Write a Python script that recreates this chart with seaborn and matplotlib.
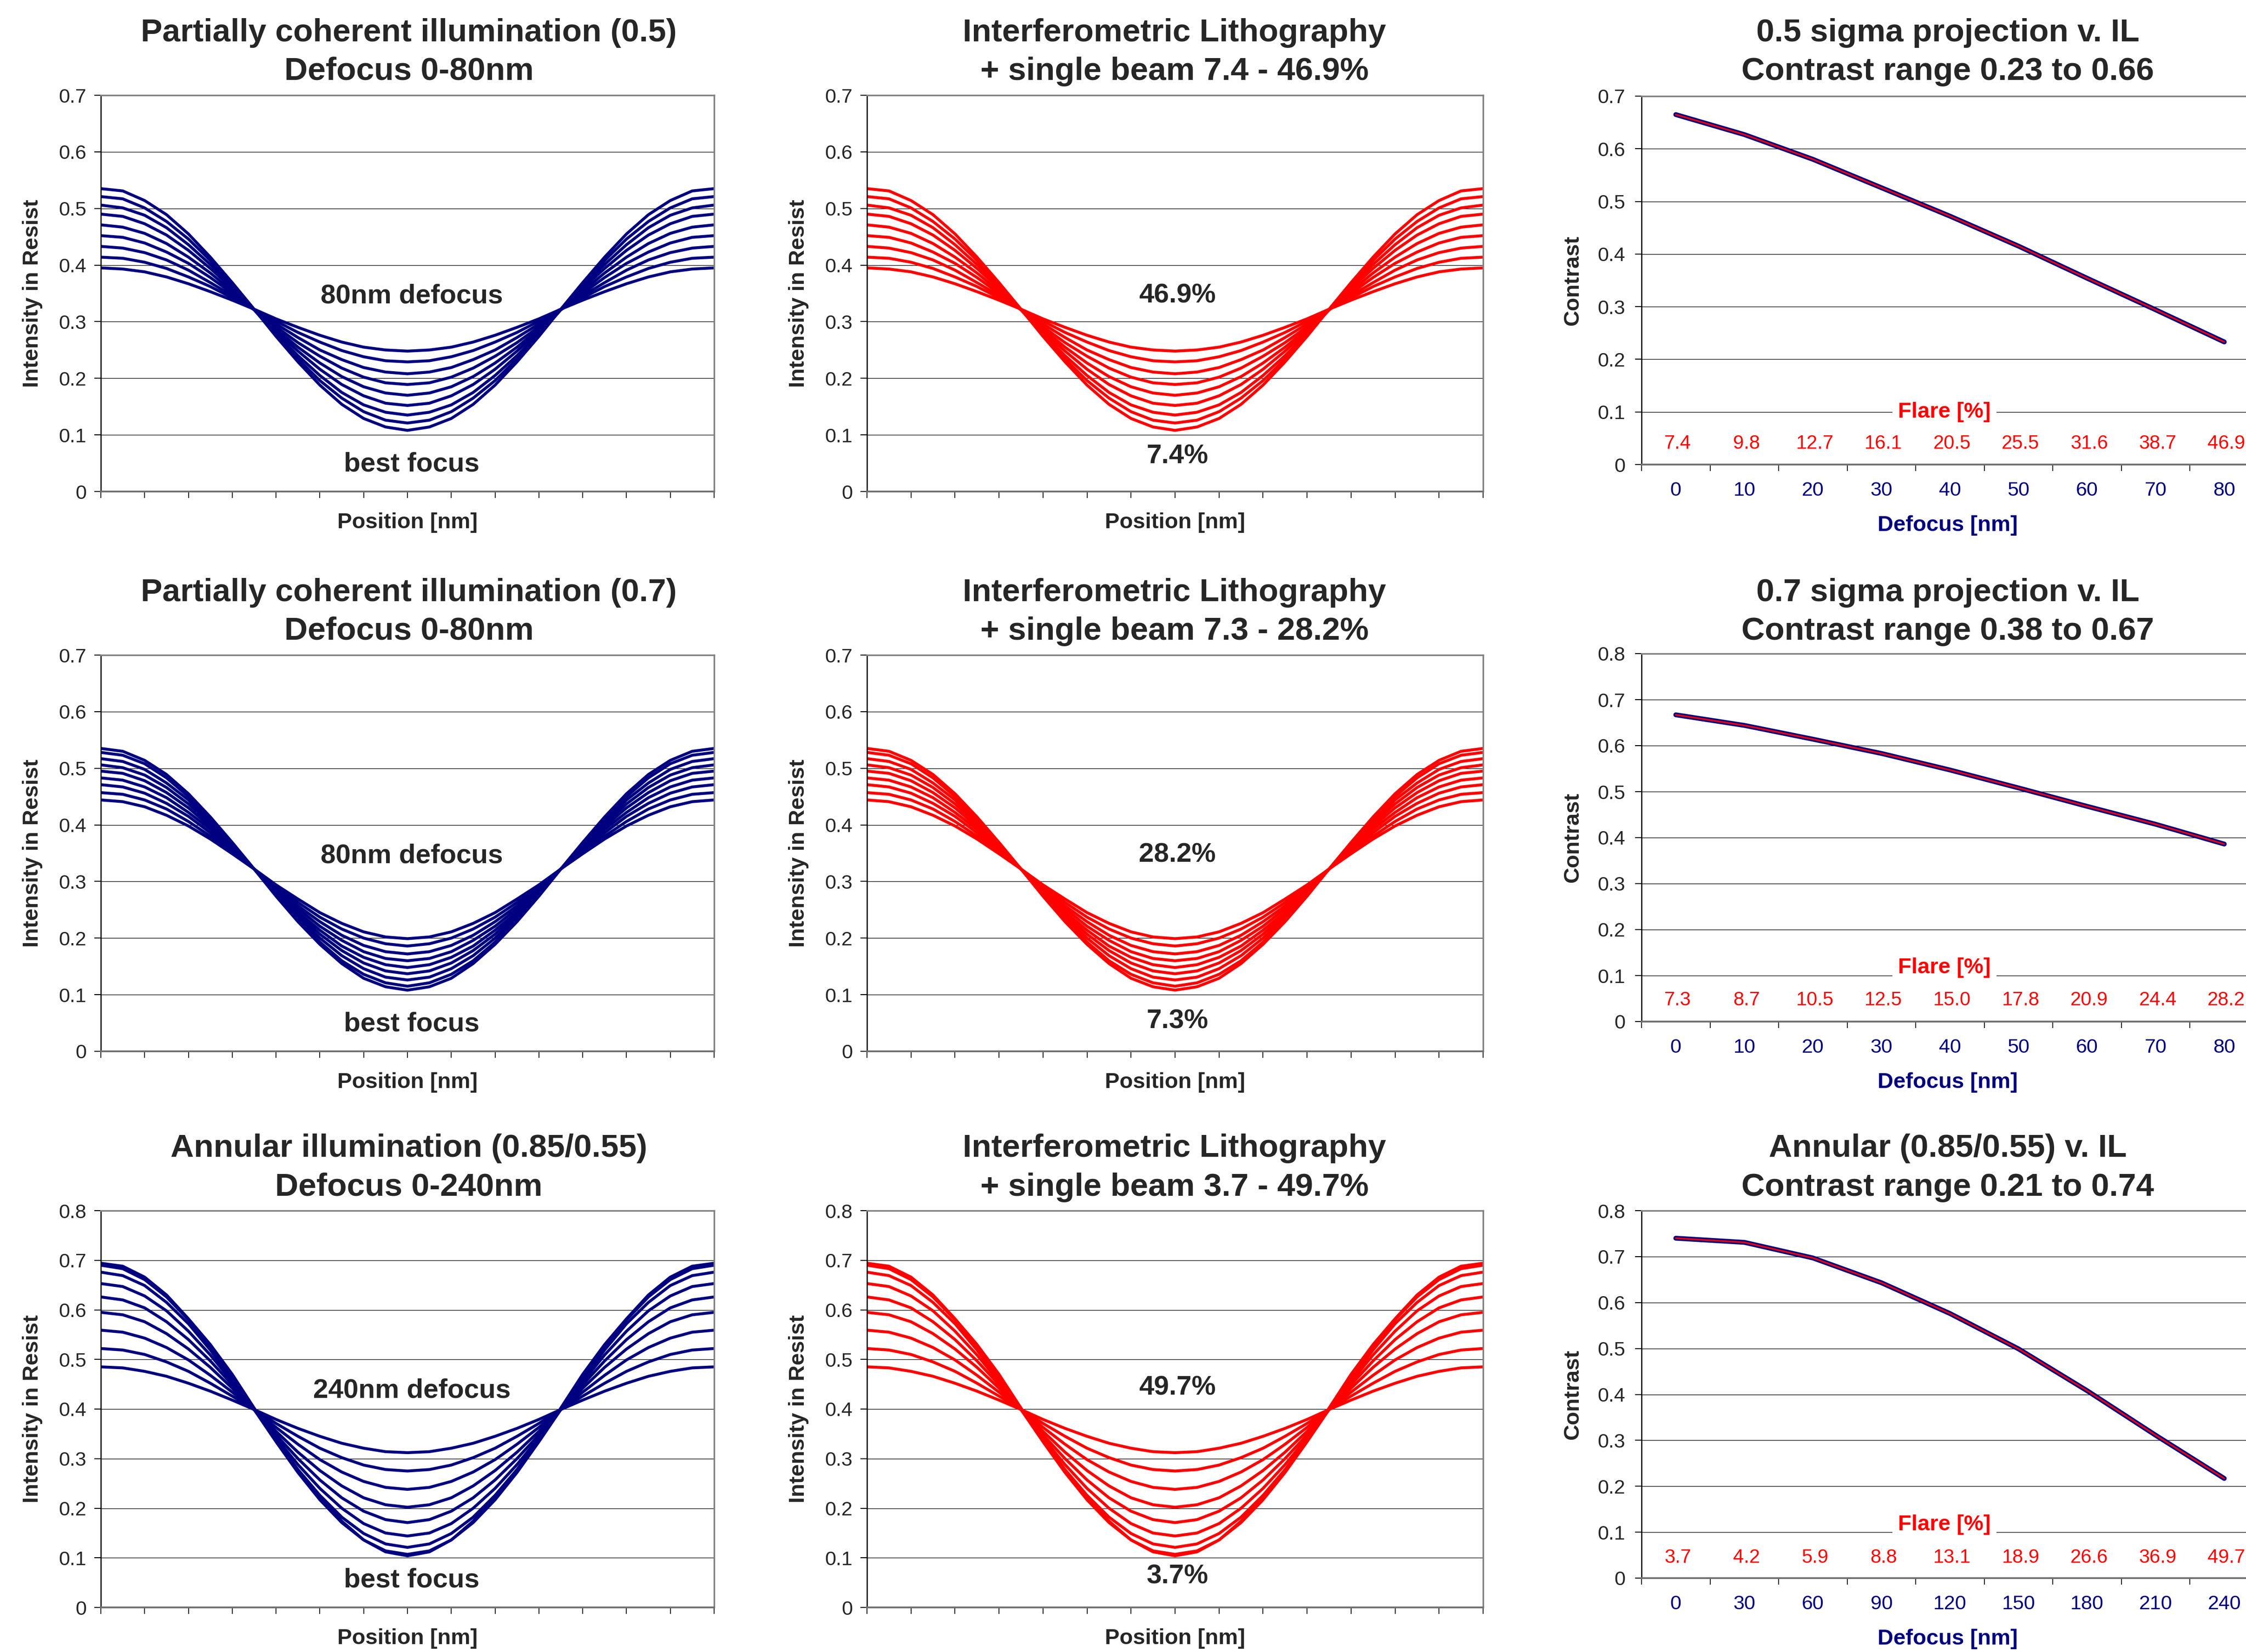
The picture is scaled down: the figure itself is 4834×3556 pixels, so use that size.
import numpy as np
import pandas as pd
import matplotlib
matplotlib.use('Agg')
import matplotlib.pyplot as plt
import seaborn as sns

# ---- values ----
# Intensity profiles, half period (line edge -> centre), 15 samples per curve,
# best focus first. The full profile is this half mirrored about the centre.
prof_05 = [
    [0.535, 0.531, 0.514, 0.489, 0.455, 0.414, 0.369, 0.322, 0.274, 0.229, 0.188, 0.154, 0.129, 0.114, 0.108],
    [0.521, 0.517, 0.501, 0.477, 0.446, 0.408, 0.366, 0.321, 0.277, 0.234, 0.196, 0.165, 0.141, 0.126, 0.121],
    [0.506, 0.501, 0.488, 0.466, 0.436, 0.401, 0.362, 0.321, 0.279, 0.240, 0.205, 0.175, 0.153, 0.140, 0.135],
    [0.490, 0.486, 0.473, 0.453, 0.426, 0.394, 0.359, 0.321, 0.283, 0.248, 0.216, 0.189, 0.169, 0.156, 0.152],
    [0.471, 0.467, 0.456, 0.438, 0.414, 0.386, 0.354, 0.321, 0.287, 0.255, 0.227, 0.203, 0.185, 0.174, 0.170],
    [0.452, 0.449, 0.439, 0.423, 0.403, 0.378, 0.350, 0.321, 0.291, 0.263, 0.239, 0.218, 0.202, 0.192, 0.189],
    [0.433, 0.430, 0.422, 0.409, 0.391, 0.369, 0.346, 0.321, 0.296, 0.272, 0.250, 0.233, 0.219, 0.211, 0.208],
    [0.414, 0.412, 0.405, 0.394, 0.379, 0.362, 0.342, 0.322, 0.301, 0.281, 0.264, 0.249, 0.238, 0.231, 0.229],
    [0.395, 0.393, 0.388, 0.379, 0.367, 0.353, 0.338, 0.322, 0.305, 0.290, 0.276, 0.264, 0.255, 0.250, 0.248],
]
prof_07 = [
    [0.535, 0.530, 0.514, 0.489, 0.455, 0.414, 0.369, 0.322, 0.274, 0.229, 0.189, 0.155, 0.129, 0.114, 0.108],
    [0.528, 0.523, 0.508, 0.483, 0.450, 0.411, 0.368, 0.322, 0.276, 0.232, 0.193, 0.160, 0.136, 0.121, 0.115],
    [0.517, 0.512, 0.498, 0.474, 0.444, 0.406, 0.365, 0.322, 0.278, 0.237, 0.200, 0.169, 0.146, 0.131, 0.126],
    [0.506, 0.501, 0.488, 0.466, 0.437, 0.402, 0.363, 0.322, 0.281, 0.242, 0.207, 0.178, 0.156, 0.142, 0.137],
    [0.495, 0.491, 0.478, 0.457, 0.430, 0.397, 0.360, 0.322, 0.283, 0.246, 0.214, 0.186, 0.166, 0.153, 0.148],
    [0.483, 0.479, 0.467, 0.448, 0.422, 0.392, 0.358, 0.322, 0.286, 0.252, 0.221, 0.196, 0.176, 0.164, 0.160],
    [0.471, 0.467, 0.456, 0.438, 0.415, 0.386, 0.355, 0.322, 0.288, 0.257, 0.229, 0.205, 0.187, 0.176, 0.172],
    [0.457, 0.454, 0.444, 0.428, 0.406, 0.380, 0.352, 0.322, 0.292, 0.263, 0.237, 0.216, 0.200, 0.190, 0.186],
    [0.444, 0.441, 0.432, 0.417, 0.398, 0.375, 0.349, 0.322, 0.294, 0.269, 0.245, 0.226, 0.211, 0.202, 0.199],
]
prof_ann = [
    [0.694, 0.688, 0.666, 0.630, 0.582, 0.530, 0.470, 0.402, 0.336, 0.277, 0.221, 0.174, 0.136, 0.112, 0.104],
    [0.690, 0.683, 0.661, 0.626, 0.580, 0.525, 0.463, 0.399, 0.334, 0.272, 0.217, 0.171, 0.136, 0.114, 0.107],
    [0.676, 0.669, 0.649, 0.615, 0.572, 0.519, 0.460, 0.399, 0.337, 0.278, 0.226, 0.182, 0.149, 0.128, 0.121],
    [0.653, 0.647, 0.628, 0.598, 0.557, 0.509, 0.455, 0.399, 0.342, 0.288, 0.240, 0.200, 0.169, 0.150, 0.144],
    [0.626, 0.620, 0.604, 0.576, 0.540, 0.497, 0.449, 0.399, 0.348, 0.300, 0.257, 0.221, 0.194, 0.177, 0.171],
    [0.595, 0.590, 0.576, 0.552, 0.521, 0.484, 0.442, 0.399, 0.355, 0.313, 0.276, 0.245, 0.221, 0.207, 0.202],
    [0.559, 0.555, 0.543, 0.524, 0.499, 0.468, 0.434, 0.399, 0.363, 0.329, 0.298, 0.273, 0.254, 0.242, 0.238],
    [0.522, 0.519, 0.510, 0.495, 0.476, 0.452, 0.426, 0.399, 0.371, 0.345, 0.321, 0.302, 0.287, 0.278, 0.275],
    [0.485, 0.483, 0.476, 0.466, 0.452, 0.436, 0.418, 0.399, 0.379, 0.361, 0.345, 0.331, 0.321, 0.314, 0.312],
]

defocus_80 = ['0', '10', '20', '30', '40', '50', '60', '70', '80']
defocus_240 = ['0', '30', '60', '90', '120', '150', '180', '210', '240']

contrast_05 = [0.665, 0.627, 0.580, 0.526, 0.472, 0.415, 0.354, 0.294, 0.233]
contrast_07 = [0.667, 0.644, 0.614, 0.583, 0.547, 0.508, 0.468, 0.429, 0.386]
contrast_ann = [0.740, 0.731, 0.697, 0.643, 0.576, 0.499, 0.408, 0.311, 0.217]

flare_05 = ['7.4', '9.8', '12.7', '16.1', '20.5', '25.5', '31.6', '38.7', '46.9']
flare_07 = ['7.3', '8.7', '10.5', '12.5', '15.0', '17.8', '20.9', '24.4', '28.2']
flare_ann = ['3.7', '4.2', '5.9', '8.8', '13.1', '18.9', '26.6', '36.9', '49.7']

titles = [
    [('Partially coherent illumination (0.5)', 'Defocus 0-80nm'),
     ('Interferometric Lithography', '+ single beam 7.4 - 46.9%'),
     ('0.5 sigma projection v. IL', 'Contrast range 0.23 to 0.66')],
    [('Partially coherent illumination (0.7)', 'Defocus 0-80nm'),
     ('Interferometric Lithography', '+ single beam 7.3 - 28.2%'),
     ('0.7 sigma projection v. IL', 'Contrast range 0.38 to 0.67')],
    [('Annular illumination (0.85/0.55)', 'Defocus 0-240nm'),
     ('Interferometric Lithography', '+ single beam 3.7 - 49.7%'),
     ('Annular (0.85/0.55) v. IL', 'Contrast range 0.21 to 0.74')],
]
notes_left = [('80nm defocus', 'best focus'), ('80nm defocus', 'best focus'), ('240nm defocus', 'best focus')]
notes_mid = [('46.9%', '7.4%'), ('28.2%', '7.3%'), ('49.7%', '3.7%')]

# ---- style ----
sns.set_style('white')
plt.rcParams['font.family'] = ['Liberation Sans', 'DejaVu Sans']

NAVY = '#000080'
RED = '#FF0000'
W, H = 4834, 3556

fig = plt.figure(figsize=(W / 100, H / 100), dpi=100)


def box(left, right, top, bottom):
    return [left / W, 1 - bottom / H, (right - left) / W, (bottom - top) / H]


def style_axes(ax, ymax, lpad=12):
    ax.set_ylim(0, ymax)
    yt = np.round(np.arange(0, ymax + 0.001, 0.1), 1)
    ax.set_yticks(yt)
    ax.set_yticklabels(['0' if v == 0 else '%.1f' % v for v in yt])
    ax.yaxis.grid(True, color='#111111', lw=1.0)
    ax.xaxis.grid(False)
    ax.set_axisbelow(True)
    for s in ['top', 'right']:
        ax.spines[s].set_color('#808080')
        ax.spines[s].set_linewidth(2.5)
    ax.spines['left'].set_color('black')
    ax.spines['left'].set_linewidth(1.8)
    ax.spines['bottom'].set_color('#707070')
    ax.spines['bottom'].set_linewidth(2.8)
    ax.tick_params(axis='y', direction='out', length=10, width=1.5, pad=lpad,
                   labelsize=31, color='black', left=True)
    ax.set_xlabel('')
    ax.set_ylabel('')


def draw_profiles(ax, profiles, color, ymax, notes, note_x, note_ys):
    rows = []
    for k, half in enumerate(profiles):
        full = list(half) + list(half[-2::-1])
        for i, v in enumerate(full):
            rows.append((k, i, v))
    df = pd.DataFrame(rows, columns=['curve', 'pos', 'intensity'])
    sns.lineplot(data=df, x='pos', y='intensity', units='curve', estimator=None,
                 color=color, lw=4.5, ax=ax, legend=False)
    ax.set_xlim(0, 28)
    ax.set_xticks(range(0, 29, 2))
    ax.set_xticklabels([])
    ax.tick_params(axis='x', direction='out', length=10, width=1.5, bottom=True)
    style_axes(ax, ymax)
    ax.text(note_x, note_ys[0], notes[0], ha='center', va='center',
            fontsize=42, fontweight='bold')
    ax.text(note_x, note_ys[1], notes[1], ha='center', va='center',
            fontsize=42, fontweight='bold')
    ax.text(0.5, -0.079, 'Position [nm]', transform=ax.transAxes, ha='center',
            va='center', fontsize=34, fontweight='bold')
    ax.text(-0.111, 0.5, 'Intensity in Resist', transform=ax.transAxes, ha='center',
            va='center', rotation=90, fontsize=34, fontweight='bold')


def draw_contrast(ax, labels, values, flare, ymax, flare_title_y, flare_y):
    df = pd.DataFrame({'step': range(len(values)), 'contrast': values})
    sns.lineplot(data=df, x='step', y='contrast', color=NAVY, lw=7.5, ax=ax,
                 solid_capstyle='round')
    sns.lineplot(data=df, x='step', y='contrast', color=RED, lw=2.4, ax=ax,
                 solid_capstyle='round')
    ax.set_xlim(-0.5, len(values) - 0.5)
    ax.set_xticks(np.arange(-0.5, len(values), 1.0))
    ax.set_xticklabels([])
    ax.set_xticks(range(len(values)), minor=True)
    ax.set_xticklabels(labels, minor=True)
    ax.tick_params(axis='x', which='major', direction='out', length=10, width=1.5, bottom=True)
    ax.tick_params(axis='x', which='minor', length=0, pad=26, labelsize=31,
                   labelcolor=NAVY, bottom=True)
    style_axes(ax, ymax, lpad=15)
    for i, f in enumerate(flare):
        ax.text(i + 0.03, flare_y, f, ha='center', va='center', color=RED, fontsize=30)
    ax.text(3.92, flare_title_y, 'Flare [%]', ha='center', va='center', color=RED,
            fontsize=34, fontweight='bold',
            bbox=dict(facecolor='white', edgecolor='none', pad=9))
    ax.text(0.496, -0.165, 'Defocus [nm]', transform=ax.transAxes, ha='center',
            va='center', color=NAVY, fontsize=34, fontweight='bold')
    ax.text(-0.111, 0.5, 'Contrast', transform=ax.transAxes, ha='center',
            va='center', rotation=90, fontsize=34, fontweight='bold')


# panel geometry (pixels of the full picture)
rows_geo = [
    dict(top=205, bottom=1058, rtop=207, rbottom=1000, t1=71, t2=154),
    dict(top=1410, bottom=2263, rtop=1407, rbottom=2199, t1=1276, t2=1359),
    dict(top=2606, bottom=3460, rtop=2606, rbottom=3397, t1=2472, t2=2556),
]
profiles = [prof_05, prof_07, prof_ann]
ymax_prof = [0.7, 0.7, 0.8]
ymax_con = [0.7, 0.8, 0.8]
note_left_y = [(0.345, 0.048), (0.345, 0.048), (0.437, 0.055)]
note_mid_y = [(0.346, 0.062), (0.347, 0.053), (0.443, 0.062)]
contrasts = [contrast_05, contrast_07, contrast_ann]
defocus = [defocus_80, defocus_80, defocus_240]
flares = [flare_05, flare_07, flare_ann]
flare_title_y = [0.100, 0.117, 0.116]
flare_num_y = [0.040, 0.046, 0.044]
title_x = [880, 2528, 4192]

for r, g in enumerate(rows_geo):
    ax_l = fig.add_axes(box(217, 1537, g['top'], g['bottom']))
    draw_profiles(ax_l, profiles[r], NAVY, ymax_prof[r], notes_left[r], 14.2, note_left_y[r])
    ax_m = fig.add_axes(box(1866, 3192, g['top'], g['bottom']))
    draw_profiles(ax_m, profiles[r], RED, ymax_prof[r], notes_mid[r], 14.1, note_mid_y[r])
    ax_r = fig.add_axes(box(3533, 4861, g['rtop'], g['rbottom']))
    draw_contrast(ax_r, defocus[r], contrasts[r], flares[r], ymax_con[r],
                  flare_title_y[r], flare_num_y[r])
    for c in range(3):
        fig.text(title_x[c] / W, 1 - g['t1'] / H, titles[r][c][0], ha='center', va='center',
                 fontsize=50, fontweight='bold')
        fig.text(title_x[c] / W, 1 - g['t2'] / H, titles[r][c][1], ha='center', va='center',
                 fontsize=50, fontweight='bold')

fig.savefig('out.png', dpi=100)
